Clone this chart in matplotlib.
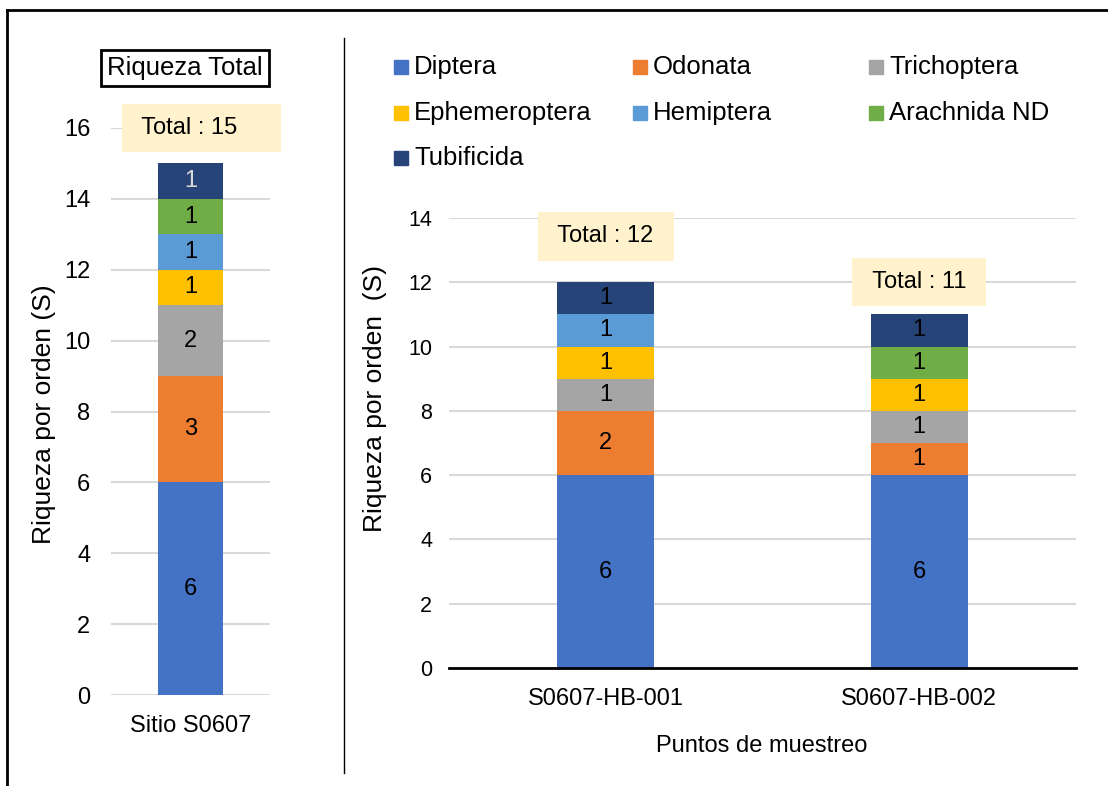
import matplotlib.pyplot as plt
from matplotlib.patches import Rectangle
from matplotlib.lines import Line2D
import numpy as np

plt.rcParams['font.family'] = ['Liberation Sans', 'DejaVu Sans']

orders = ['Diptera', 'Odonata', 'Trichoptera', 'Ephemeroptera', 'Hemiptera',
          'Arachnida ND', 'Tubificida']
colors = ['#4472C4', '#ED7D31', '#A5A5A5', '#FFC000', '#5B9BD5', '#70AD47', '#264478']

site = ['Sitio S0607']
site_vals = [6, 3, 2, 1, 1, 1, 1]

points = ['S0607-HB-001', 'S0607-HB-002']
diptera = [6, 6]
odonata = [2, 1]
trichoptera = [1, 1]
ephemeroptera = [1, 1]
hemiptera = [1, 0]
arachnida = [0, 1]
tubificida = [1, 1]
point_vals = [diptera, odonata, trichoptera, ephemeroptera, hemiptera, arachnida, tubificida]

W, H = 1108, 786
fig = plt.figure(figsize=(W / 100, H / 100), dpi=100)


def fx(px):
    return px / W


def fy(py):
    return 1 - py / H


EN = '\u2002'
box_style = dict(boxstyle='square,pad=0.57', fc='#FFF2CC', ec='none')

# frame and divider
fig.add_artist(Line2D([fx(7), fx(7)], [fy(10), 0], color='black', lw=2))
fig.add_artist(Line2D([fx(7), 1], [fy(10), fy(10)], color='black', lw=2))
fig.add_artist(Line2D([fx(344), fx(344)], [fy(38), fy(773)], color='black', lw=1))

# ---- left panel
ax1 = fig.add_axes([fx(111), fy(695), fx(270) - fx(111), fy(128) - fy(695)])
bottom = 0
for i, v in enumerate(site_vals):
    ax1.bar(0, v, 0.41, bottom=bottom, color=colors[i], zorder=3)
    tc = '#D9D9D9' if i == len(site_vals) - 1 else 'black'
    ax1.text(0, bottom + v / 2, str(v), ha='center', va='center', fontsize=17, color=tc, zorder=4)
    bottom += v
ax1.text(0.07, bottom + 1.0, ' ' + f'Total : {bottom}' + EN * 2 + ' ', ha='center', va='center',
         fontsize=17, bbox=box_style, zorder=5)
ax1.set_xlim(-0.5, 0.5)
ax1.set_ylim(0, 16)
ax1.set_yticks(np.arange(0, 17, 2))
ax1.set_xticks([0])
ax1.set_xticklabels(site)
ax1.tick_params(axis='y', length=0, pad=15, labelsize=17)
ax1.tick_params(axis='x', length=0, pad=14.5, labelsize=17)
ax1.grid(axis='y', color='#D9D9D9', lw=1.5, zorder=0)
for s in ax1.spines.values():
    s.set_visible(False)
fig.text(fx(44), fy(414), 'Riqueza por orden (S)', rotation=90, ha='center', va='center', fontsize=19)
fig.text(fx(185), fy(68), 'Riqueza Total', ha='center', va='center', fontsize=18.5,
         bbox=dict(boxstyle='square,pad=0.24', fc='white', ec='black', lw=2))

# ---- right panel
ax2 = fig.add_axes([fx(449), fy(668), fx(1076) - fx(449), fy(218) - fy(668)])
x = np.arange(len(points))
bottoms = np.zeros(len(points))
for i, vals in enumerate(point_vals):
    vals = np.array(vals)
    ax2.bar(x, vals, 0.31, bottom=bottoms, color=colors[i], zorder=3)
    for j, v in enumerate(vals):
        if v > 0:
            ax2.text(x[j], bottoms[j] + v / 2, str(v), ha='center', va='center', fontsize=17, zorder=4)
    bottoms += vals
total_offsets = [1.43, 1.01]
for j, t in enumerate(bottoms):
    ax2.text(x[j], t + total_offsets[j], ' ' + f'Total : {int(t)}' + ' ', ha='center', va='center',
             fontsize=17, bbox=box_style, zorder=5)
ax2.set_xlim(-0.5, 1.5)
ax2.set_ylim(0, 14)
ax2.set_yticks(np.arange(0, 15, 2))
ax2.set_xticks(x)
ax2.set_xticklabels(points)
ax2.tick_params(axis='y', length=0, pad=12, labelsize=15.5)
ax2.tick_params(axis='x', length=0, pad=14.5, labelsize=17)
ax2.grid(axis='y', color='#D9D9D9', lw=1.5, zorder=0)
for s in ['top', 'right', 'left']:
    ax2.spines[s].set_visible(False)
ax2.spines['bottom'].set_linewidth(2)
ax2.spines['bottom'].set_zorder(6)
fig.text(fx(762), fy(746), 'Puntos de muestreo', ha='center', va='center', fontsize=17)
fig.text(fx(375), fy(398), 'Riqueza por orden  (S)', rotation=90, ha='center', va='center', fontsize=19)

# ---- legend (three columns)
col_x = [394, 633, 869]
row_y = [67, 113, 158]
for i, name in enumerate(orders):
    cx = col_x[i % 3]
    cy = row_y[i // 3]
    fig.add_artist(Rectangle((fx(cx), fy(cy + 7)), fx(14), 14 / H, color=colors[i]))
    fig.text(fx(cx + 20), fy(cy), name, ha='left', va='center', fontsize=18.5)

fig.savefig('out.png', dpi=100)
